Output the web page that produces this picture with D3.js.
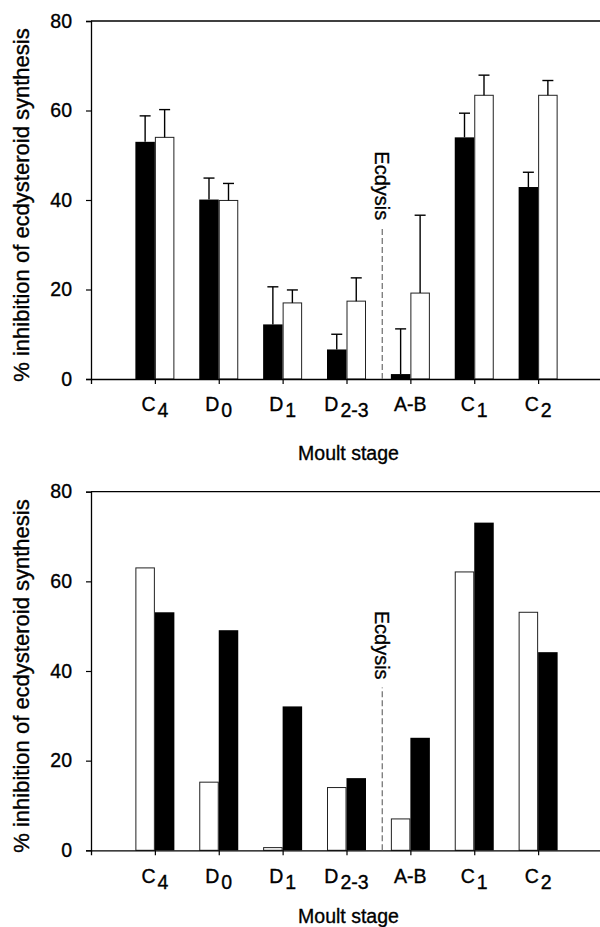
<!DOCTYPE html>
<html><head><meta charset="utf-8">
<script src="https://cdn.jsdelivr.net/npm/d3@7"></script>
<style>body{margin:0;background:#fff}svg{display:block}text{font-family:"Liberation Sans",Arial,sans-serif;fill:#000;stroke:#000;stroke-width:0.35px}</style>
</head><body>
<svg id="c" width="600" height="927"></svg>
<script>
// Data
const stages = ["C4","D0","D1","D2-3","A-B","C1","C2"];
const stageMain = ["C","D","D","D","A-B","C","C"];
const stageSub = ["4","0","1","2-3","","1","2"];
const yTicks = [0,20,40,60,80];
// top panel
const topBlack = [53.0,40.1,12.2,6.6,1.1,54.0,42.9];
const topBlackErr = [5.8,4.8,8.4,3.4,10.1,5.4,3.3];
const topWhite = [54.0,39.9,17.0,17.4,19.2,63.4,63.4];
const topWhiteErr = [6.2,3.8,2.9,5.2,17.4,4.5,3.3];
// bottom panel
const botWhite = [63.0,15.2,0.6,14.0,7.0,62.1,53.1];
const botBlack = [53.1,49.1,32.1,16.1,25.1,73.1,44.2];
const ecdysisPos = 4.56;

const svg = d3.select("#c");
const x = d3.scaleLinear().domain([0,8]).range([91,602]);
const bw = 19.5;

function panel(cfg){
  const y = d3.scaleLinear().domain([0,80]).range([cfg.y0, cfg.y1]);
  const g = svg.append("g");
  cfg.series.forEach((s,si)=>{
    const off = si===0 ? -bw : 0;
    const white = s.fill==="#fff";
    g.selectAll(null).data(s.values).enter().append("rect")
      .attr("x",(d,i)=>x(i+1)+off+(white?0.5:0))
      .attr("y",d=>y(d))
      .attr("width",bw-(white?1:0))
      .attr("height",d=>y(0)-y(d))
      .attr("fill",s.fill)
      .attr("stroke",white?"#222":"none")
      .attr("stroke-width",1);
    if(s.err){
      s.values.forEach((v,i)=>{
        const cx = x(i+1)+off+bw/2;
        const top = y(v+s.err[i]);
        g.append("line").attr("x1",cx).attr("x2",cx).attr("y1",y(v)).attr("y2",top).attr("stroke","#000").attr("stroke-width",1.4);
        g.append("line").attr("x1",cx-5.5).attr("x2",cx+5.5).attr("y1",top).attr("y2",top).attr("stroke","#000").attr("stroke-width",1.4);
      });
    }
  });
  const ya = g.append("g").attr("transform",`translate(${x(0)},0)`)
    .call(d3.axisLeft(y).tickValues(yTicks).tickSize(5).tickPadding(14));
  ya.select(".domain").attr("stroke","#000").attr("stroke-width",1.3);
  ya.selectAll("line").attr("stroke-width",1.2);
  ya.selectAll("text").attr("font-size",19.5).attr("font-family","Liberation Sans, Arial, sans-serif");
  g.append("line").attr("x1",x(0)).attr("x2",x(8)).attr("y1",y(80)).attr("y2",y(80)).attr("stroke","#000").attr("stroke-width",1.3);
  const xa = g.append("g").attr("transform",`translate(0,${y(0)})`)
    .call(d3.axisBottom(x).tickValues(d3.range(1,8)).tickSize(5).tickFormat(""));
  xa.select(".domain").attr("stroke","#000").attr("stroke-width",1.3);
  xa.selectAll("line").attr("stroke-width",1.2);
  stages.forEach((s,i)=>{
    const t = g.append("text").attr("x",x(i+1)).attr("y",y(0)+cfg.labOff)
      .attr("text-anchor","middle").attr("font-size",19.5);
    t.append("tspan").text(stageMain[i]);
    if(stageSub[i]) t.append("tspan").attr("dx",2).attr("dy",6).text(stageSub[i]);
  });
  g.append("text").attr("x",(x(0)+x(8))/2+2).attr("y",y(0)+cfg.titleOff)
    .attr("text-anchor","middle").attr("font-size",19.5).text("Moult stage");
  g.append("text").attr("transform",`translate(29,${(y(0)+y(80))/2+5}) rotate(-90)`)
    .attr("text-anchor","middle").attr("font-size",22).text("% inhibition of ecdysteroid synthesis");
  const ex = x(ecdysisPos);
  g.append("line").attr("x1",ex).attr("x2",ex).attr("y1",y(0)).attr("y2",y(cfg.ecTop))
    .attr("stroke","#777").attr("stroke-width",1.3).attr("stroke-dasharray","6,3");
  g.append("text").attr("transform",`translate(${ex-7},${y(cfg.ecTop)-8}) rotate(90)`)
    .attr("text-anchor","end").attr("font-size",20).text("Ecdysis");
}

panel({y0:379,y1:21,labOff:32,titleOff:81,ecTop:33.7,
  series:[{values:topBlack,err:topBlackErr,fill:"#000"},{values:topWhite,err:topWhiteErr,fill:"#fff"}]});
panel({y0:850.3,y1:491.7,labOff:33,titleOff:73,ecTop:36.3,
  series:[{values:botWhite,fill:"#fff"},{values:botBlack,fill:"#000"}]});
</script>
</body></html>
